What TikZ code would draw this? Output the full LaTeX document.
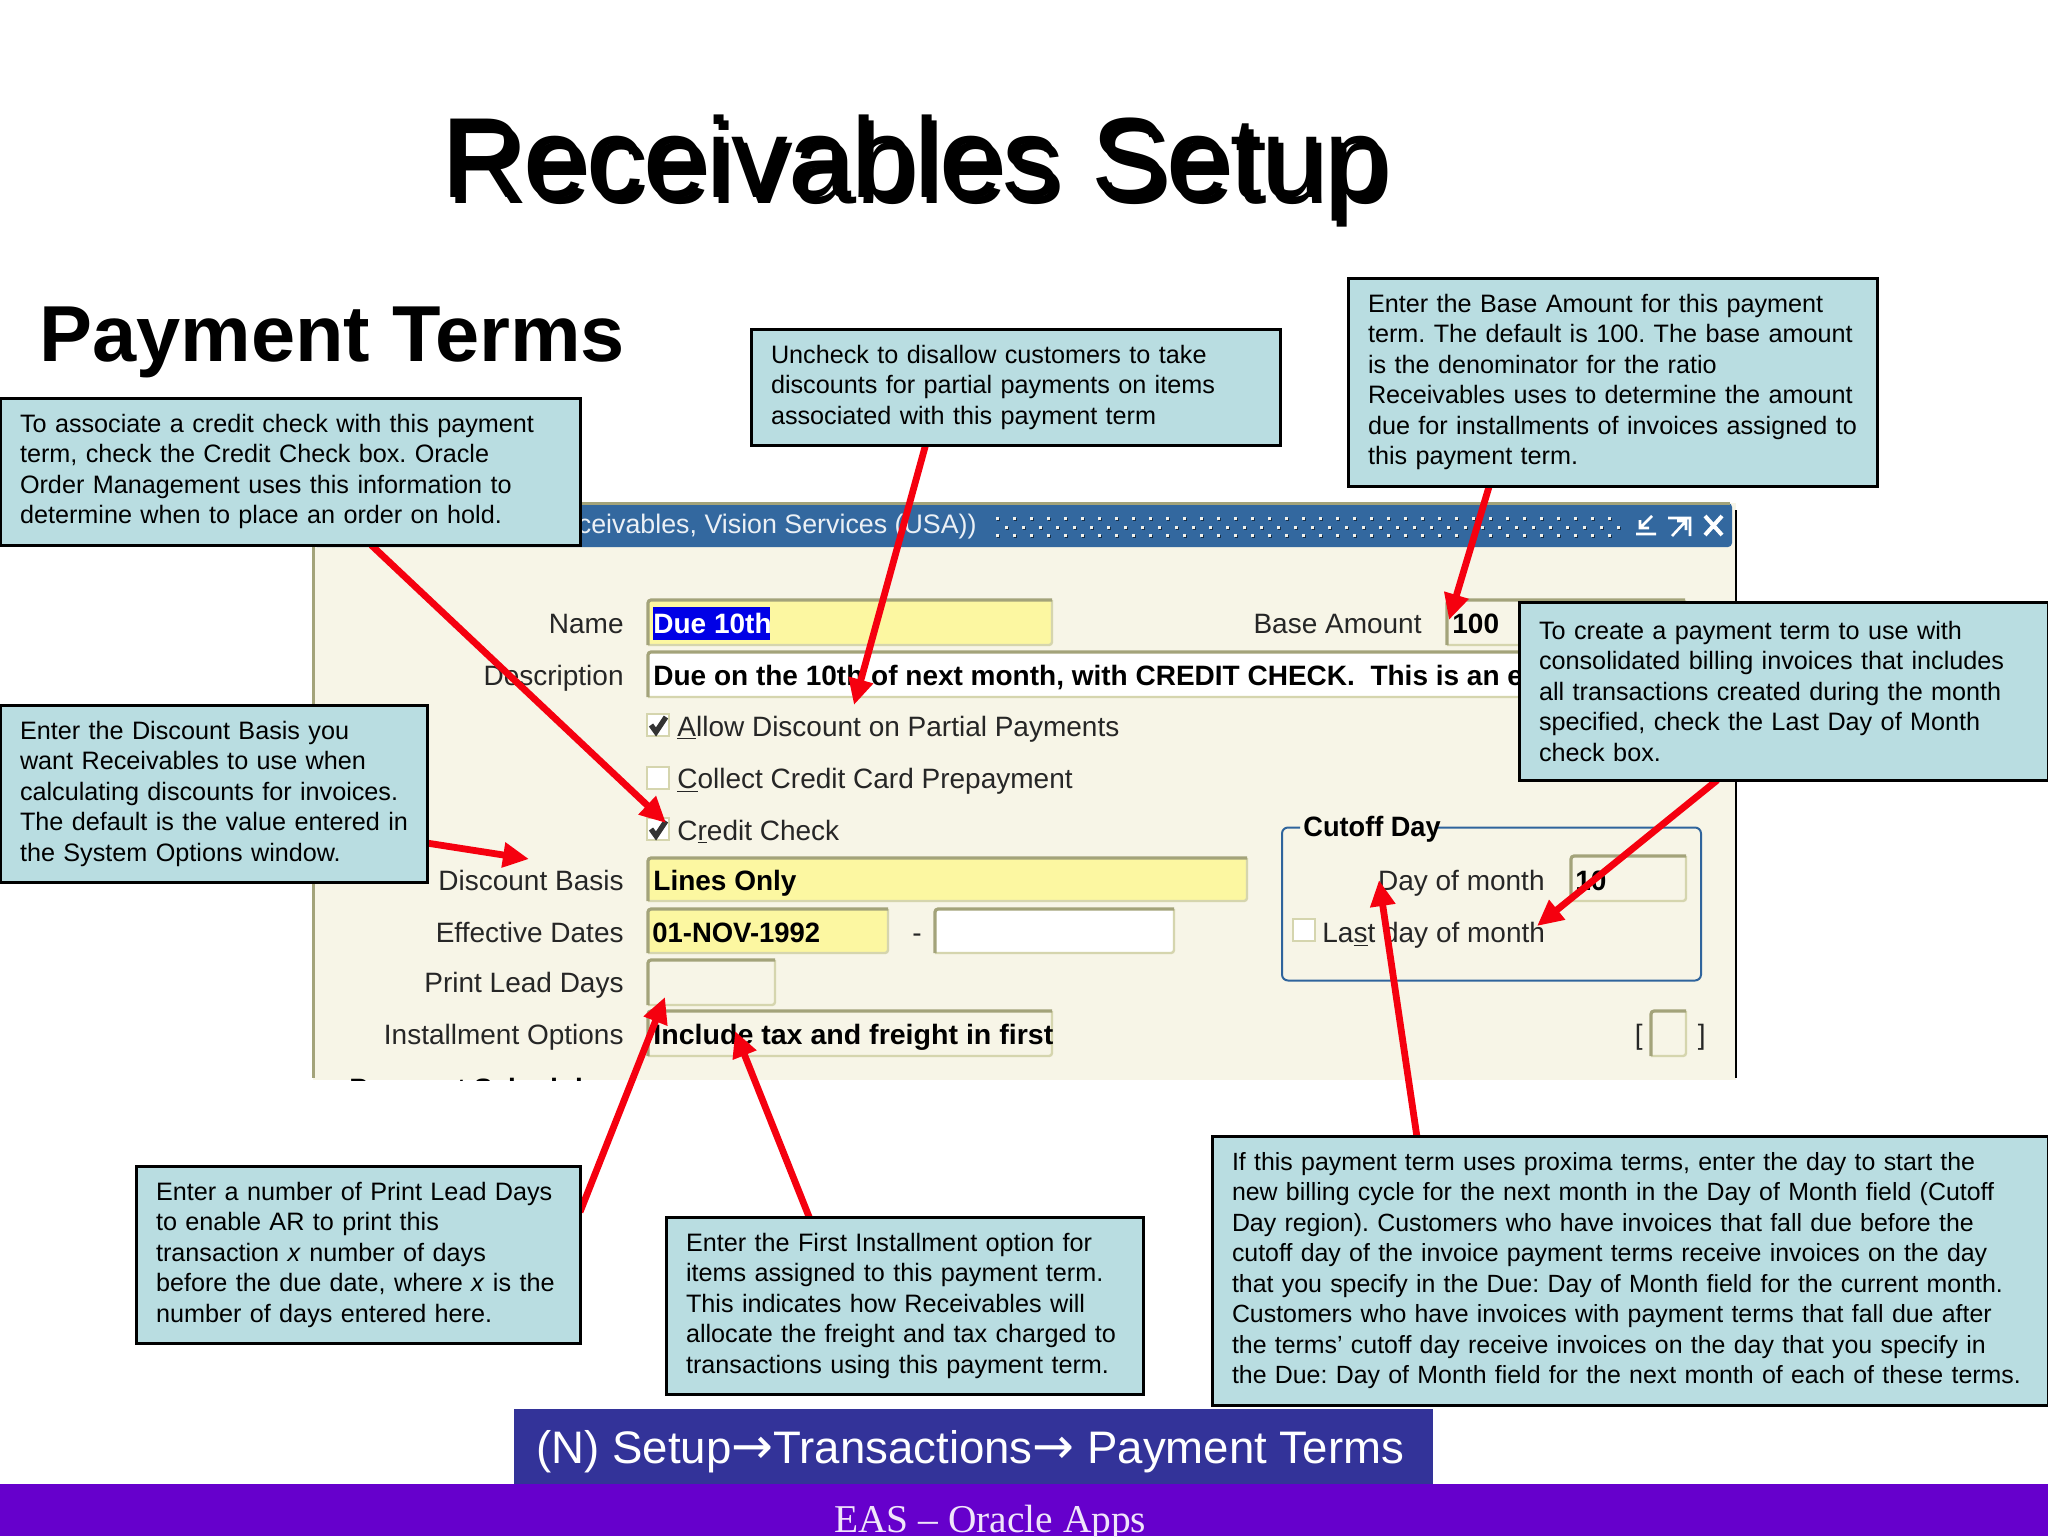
\documentclass[tikz,border=0pt]{standalone}
\usepackage{fontspec}
\setmainfont{Liberation Sans}
\newfontfamily\footfont{Liberation Serif}
\newfontfamily\arrowfont{DejaVu Sans}
\usetikzlibrary{calc,arrows.meta}
\pgfdeclarelayer{fg}
\pgfsetlayers{main,fg}
\definecolor{calloutfill}{HTML}{B9DDE1}
\definecolor{winbg}{HTML}{F7F5E7}
\definecolor{barblue}{HTML}{33689F}
\definecolor{olive}{HTML}{A3A37A}
\definecolor{paleedge}{HTML}{D5D5AE}
\definecolor{fldyellow}{HTML}{FCF7A1}
\definecolor{navblue}{HTML}{333399}
\definecolor{footpurple}{HTML}{6600CC}
\definecolor{arrowred}{HTML}{F5000F}
\definecolor{boxblue}{HTML}{2F649C}
\definecolor{seltext}{HTML}{0000E6}
\frenchspacing
\tikzset{
  callout/.style={draw=black,line width=1.5pt,fill=calloutfill,anchor=north west,outer sep=0pt,
    inner xsep=10pt,inner ysep=0pt,align=left,font=\fontsize{12.6}{15.25}\selectfont},
  lbl/.style={anchor=base east,inner sep=0pt,text=black!85,font=\fontsize{14}{16}\selectfont},
  chklbl/.style={anchor=base west,inner sep=0pt,text=black!85,font=\fontsize{14}{16}\selectfont},
  fldtxt/.style={anchor=base west,inner sep=0pt,text=black,font=\fontsize{14}{16}\bfseries\selectfont},
  redarrow/.style={draw=arrowred,line width=3.4pt,-{Triangle[length=13pt,width=12pt]}},
}
\newcommand{\fieldbox}[5]{%
  \fill[#5,rounded corners=1.5pt] (#1,#2) rectangle (#3,#4);
  \draw[paleedge,line width=1.2pt,rounded corners=1.5pt] (#1,#4) -- (#3,#4) -- (#3,#2);
  \draw[olive,line width=1.6pt,rounded corners=1.5pt] (#1,#4) -- (#1,#2) -- (#3,#2);
}
\newcommand{\checkbox}[2]{%
  \fill[white] (#1,#2) rectangle ++(22,22);
  \draw[paleedge,line width=1pt] (#1,#2) rectangle ++(22,22);
}
\newcommand{\checktick}[2]{%
  \draw[black!80,line width=2.6pt] ($(#1,#2)+(4,11)$) -- ++(5,7) -- ++(10,-15);
}
\begin{document}
\begin{tikzpicture}[x=0.5pt,y=-0.5pt]
\useasboundingbox (0,0) rectangle (2048,1536);
\fill[white] (0,0) rectangle (2048,1536);

% Titles
\node (titleshadow) [anchor=base west,inner sep=0pt,xscale=0.996,font=\fontsize{57}{60}\selectfont,text=black] at (446,203) {Receivables Setup};
\node (title) [anchor=base west,inner sep=0pt,xscale=0.996,font=\fontsize{57}{60}\selectfont,text=black] at (441,197) {Receivables Setup};
\node (subtitle) [anchor=base west,inner sep=0pt,font=\fontsize{39.7}{44}\bfseries\selectfont] at (39,361) {Payment Terms};

% Window
\fill[winbg] (313,503) rectangle (1736,1080);
\fill[barblue,rounded corners=2pt] (313,503) rectangle (1732,547);
\draw[olive,line width=1.5pt] (313,503.5) -- (1730,503.5);
\draw[olive,line width=1.5pt] (313,503) -- (313,1078);
\draw[black,line width=1pt] (1735.5,510) -- (1735.5,1078);
\node (wintitle) [anchor=base east,inner sep=0pt,text=white!90!barblue,font=\fontsize{13.4}{16}\selectfont] at (977,533) {Receivables, Vision Services (USA))};
\foreach \i in {0,...,36}{
  \foreach \yy/\off in {517/0,526/8.5,534/0}{
    \fill[barblue!45!black] ($(996,\yy)+(\i*17+\off+1,1)$) rectangle ++(3,3);
    \fill[white!85!olive] ($(996,\yy)+(\i*17+\off,0)$) rectangle ++(3,3);
  }
}
% Window buttons
\draw[white,line width=1.3pt] (1636,534) -- (1656,534) (1652,516) -- (1640,528) (1640,520) -- (1640,528) -- (1649,528);
\draw[white,line width=1.3pt] (1668,518) -- (1690,518) -- (1690,536) (1672,536) -- (1686,521) (1677,521) -- (1686,521) -- (1686,530);
\draw[white,line width=2pt] (1705,516) -- (1722,535) (1722,516) -- (1705,535);

% Fields
\fieldbox{648}{600}{1052}{645}{fldyellow}
\fill[seltext] (653,607) rectangle (770,640);
\fieldbox{648}{652}{1540}{697}{white}
\fieldbox{1447}{600}{1685}{645}{winbg}
\fieldbox{648}{858}{1247}{901}{fldyellow}
\fieldbox{648}{909}{888}{953}{fldyellow}
\fieldbox{935}{909}{1174}{953}{white}
\fieldbox{648}{960}{775}{1005}{winbg}
\fieldbox{648}{1011}{1052}{1056}{winbg}
\fieldbox{1571}{856}{1686}{901}{winbg}
\fieldbox{1651}{1011}{1686}{1056}{winbg}
\checkbox{647}{714}\checktick{647}{714}
\checkbox{647}{767}
\checkbox{647}{818}\checktick{647}{818}
\checkbox{1293}{919}
\draw[boxblue,line width=1pt,rounded corners=3pt] (1300,827.5) -- (1282,827.5) -- (1282,980.5) -- (1701,980.5) -- (1701,827.5) -- (1437,827.5);

% Form labels
\node (lName) [lbl] at (624,633) {Name};
\node (lDesc) [lbl] at (624,685) {Description};
\node (lBasis) [lbl] at (624,890) {Discount Basis};
\node (lDates) [lbl] at (624,942) {Effective Dates};
\node (lLead) [lbl] at (624,992) {Print Lead Days};
\node (lInst) [lbl] at (624,1044) {Installment Options};
\node (lBase) [lbl] at (1422,633) {Base Amount};
\node (lDay) [lbl] at (1545,890) {Day of month};
\node (lAllow) [chklbl] at (677,736) {\underline{A}llow Discount on Partial Payments};
\node (lCollect) [chklbl] at (677,788) {\underline{C}ollect Credit Card Prepayment};
\node (lCredit) [chklbl] at (677,840) {C\underline{r}edit Check};
\node (lLast) [chklbl] at (1322,942) {La\underline{s}t day of month};
\node (lDash) [lbl] at (922,942) {-};
\node (lBrL) [lbl] at (1643,1044) {[};
\node (lBrR) [lbl] at (1706,1044) {]};

% Field texts
\node (tName) [fldtxt,text=white] at (653,633) {Due 10th};
\node (tDesc) [fldtxt] at (653,685) {Due on the 10th of next month, with CREDIT CHECK.\ \ This is an e};
\node (tBase) [fldtxt] at (1452,633) {100};
\node (tBasis) [fldtxt] at (653,890) {Lines Only};
\node (tDate) [fldtxt,xscale=0.98] at (652,942) {01-NOV-1992};
\node (tInst) [fldtxt,xscale=1.02] at (653,1044) {Include tax and freight in first};
\node (tDay) [fldtxt] at (1575,890) {10};
\node (tCutoff) [fldtxt,xscale=0.97] at (1303,836) {Cutoff Day};
\begin{scope}
  \clip (313,1040) rectangle (1736,1080);
  \node (tSched) [fldtxt] at (349,1098) {Payment Schedule};
\end{scope}

% Callouts
\begin{pgfonlayer}{fg}
\node (cCredit) [callout,text width=270pt,minimum height=73.5pt] at (0,398) {To associate a credit check with this payment\\term, check the Credit Check box. Oracle\\Order Management uses this information to\\determine when to place an order on hold.};
\node (cBasis) [callout,text width=193.5pt,minimum height=88.5pt] at (0,705) {Enter the Discount Basis you\\want Receivables to use when\\calculating discounts for invoices.\\\mbox{The default is the value entered in}\\the System Options window.};
\node (cPartial) [callout,text width=244.5pt,minimum height=58pt] at (751,329) {Uncheck to disallow customers to take\\discounts for partial payments on items\\associated with this payment term};
\node (cAmount) [callout,text width=244.5pt,minimum height=104pt] at (1348,278) {Enter the Base Amount for this payment\\term. The default is 100. The base amount\\is the denominator for the ratio\\Receivables uses to determine the amount\\due for installments of invoices assigned to\\this payment term.};
\node (cLast) [callout,text width=244.5pt,minimum height=89pt] at (1519,602) {To create a payment term to use with\\consolidated billing invoices that includes\\all transactions created during the month\\specified, check the Last Day of Month\\check box.};
\node (cLead) [callout,text width=202pt,minimum height=88.5pt] at (136,1166) {Enter a number of Print Lead Days\\to enable AR to print this\\transaction \textit{x} number of days\\before the due date, where \textit{x} is the\\number of days entered here.};
\node (cInst) [callout,text width=218.5pt,minimum height=88.5pt] at (666,1217) {Enter the First Installment option for\\items assigned to this payment term.\\This indicates how Receivables will\\allocate the freight and tax charged to\\transactions using this payment term.};
\node (cProx) [callout,font=\fontsize{12.45}{15.25}\selectfont,text width=398pt,minimum height=134.5pt] at (1212,1136) {If this payment term uses proxima terms, enter the day to start the\\new billing cycle for the next month in the Day of Month field (Cutoff\\Day region). Customers who have invoices that fall due before the\\cutoff day of the invoice payment terms receive invoices on the day\\that you specify in the Due: Day of Month field for the current month.\\Customers who have invoices with payment terms that fall due after\\the terms' cutoff day receive invoices on the day that you specify in\\\mbox{the Due: Day of Month field for the next month of each of these terms.}};
\end{pgfonlayer}

% Arrow targets
\coordinate (gCredit) at (666,823);
\coordinate (gAllow) at (854,705);
\coordinate (gBase) at (1449,620);
\coordinate (gBasis) at (529,859);
\coordinate (gLast) at (1537,926);
\coordinate (gDay) at (1379,880);
\coordinate (gLead) at (665,997);
\coordinate (gInst) at (735,1031);

\draw[redarrow] ($(cCredit.south west)!0.64!(cCredit.south east)$) -- (gCredit);
\draw[redarrow] ($(cPartial.south west)!0.330!(cPartial.south east)$) -- (gAllow);
\draw[redarrow] ($(cAmount.south west)!0.267!(cAmount.south east)$) -- (gBase);
\draw[redarrow] ($(cBasis.north east)!0.78!(cBasis.south east)$) -- (gBasis);
\draw[redarrow] ($(cLast.south west)!0.375!(cLast.south east)$) -- (gLast);
\draw[redarrow] ($(cProx.north west)!0.245!(cProx.north east)$) -- (gDay);
\draw[redarrow] ($(cLead.north east)!0.26!(cLead.south east)$) -- (gLead);
\draw[redarrow] ($(cInst.north west)!0.30!(cInst.north east)$) -- (gInst);

% Bottom bars
\fill[footpurple] (0,1484) rectangle (2048,1536);
\fill[navblue] (514,1409) rectangle (1433,1484);
\node (nav) [anchor=base west,inner sep=0pt,text=white,font=\fontsize{22.8}{26}\selectfont] at (536,1463) {(N) Setup{\arrowfont\fontsize{25}{26}\selectfont →}Transactions{\arrowfont\fontsize{25}{26}\selectfont →} Payment Terms};
\node (foot) [anchor=base west,inner sep=0pt,text=white!90!footpurple,font=\footfont\fontsize{19.7}{22}\selectfont] at (834,1532) {EAS – Oracle Apps};
\end{tikzpicture}
\end{document}
